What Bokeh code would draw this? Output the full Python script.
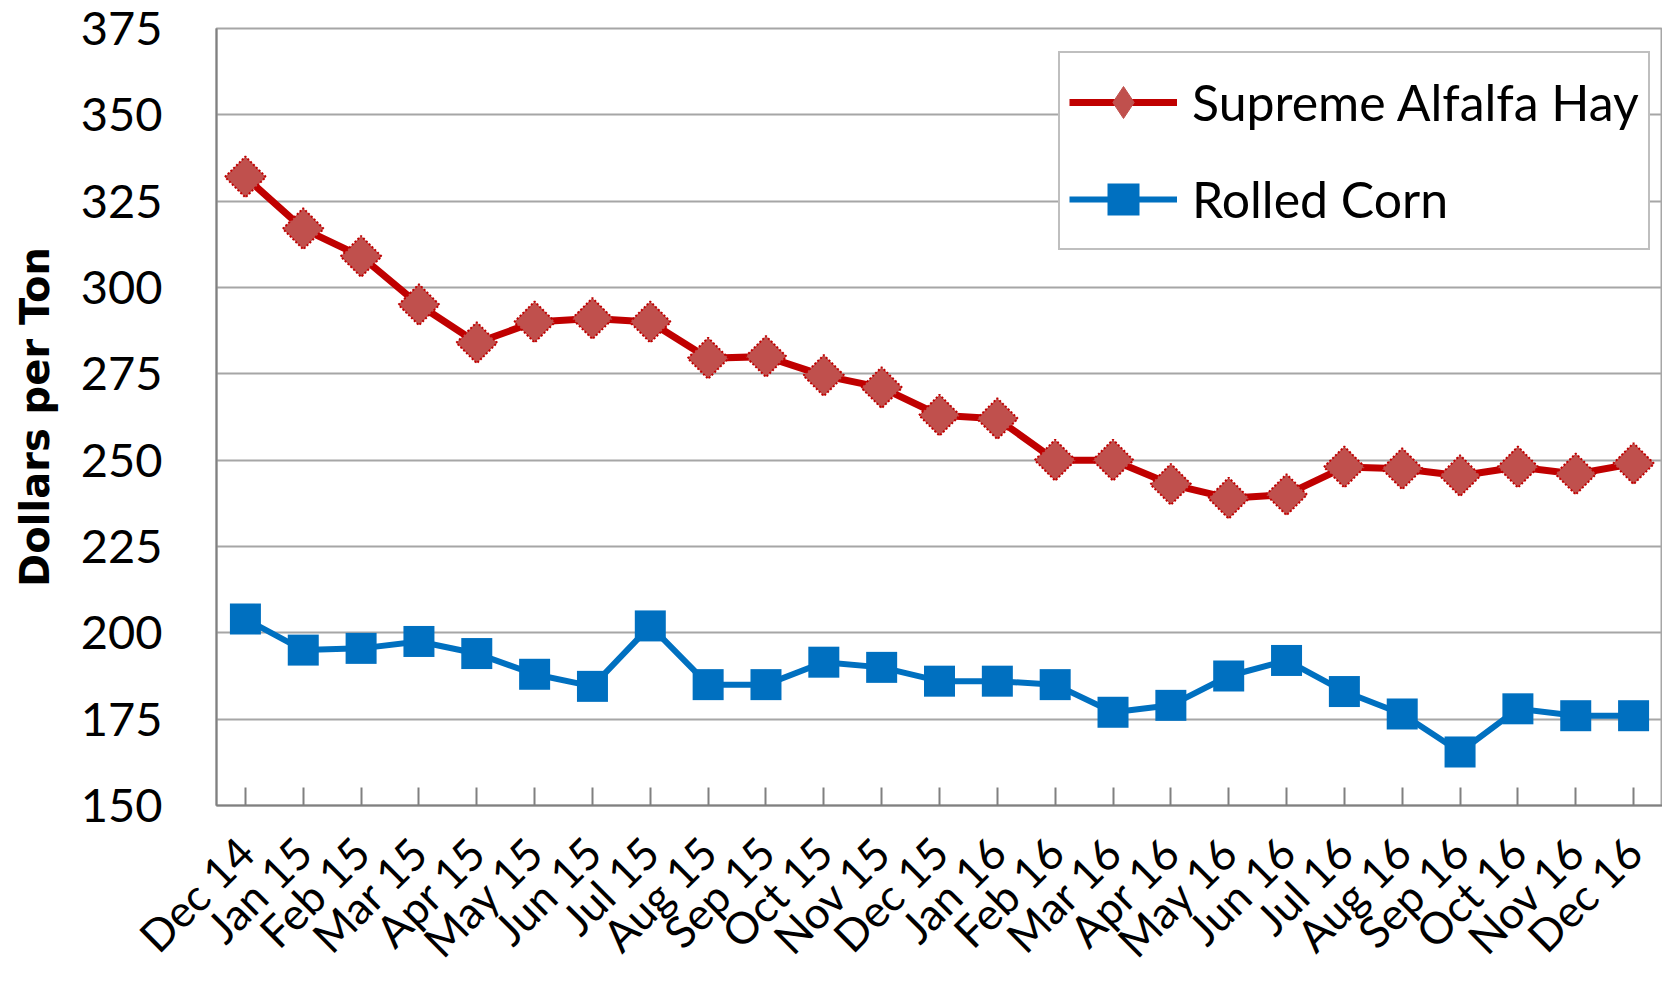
import math
from bokeh.plotting import figure
from bokeh.models import Range1d, FixedTicker, Legend, LegendItem
from bokeh.embed import file_html
from bokeh.resources import INLINE

months = ["Dec 14", "Jan 15", "Feb 15", "Mar 15", "Apr 15", "May 15", "Jun 15",
          "Jul 15", "Aug 15", "Sep 15", "Oct 15", "Nov 15", "Dec 15", "Jan 16",
          "Feb 16", "Mar 16", "Apr 16", "May 16", "Jun 16", "Jul 16", "Aug 16",
          "Sep 16", "Oct 16", "Nov 16", "Dec 16"]
alfalfa = [332, 317, 309, 295, 284, 290, 291, 290, 279.5, 280, 274.5, 271, 263,
           262, 250, 250, 243, 239, 240, 248, 247.5, 245.5, 248, 246, 249]
corn = [204, 195, 195.5, 197.5, 194, 188, 184.5, 202, 185, 185, 191.5, 190, 186,
        186, 185, 177, 179, 187.5, 192, 183, 176.5, 165.5, 178, 176, 176]
y_ticks = [150, 175, 200, 225, 250, 275, 300, 325, 350, 375]

p = figure(x_range=months, y_range=Range1d(150, 375), width=1662, height=987,
           output_backend="svg", toolbar_location=None, title=None,
           min_border_left=216, min_border_right=0, min_border_top=28,
           min_border_bottom=182)

# diamond marker used for the legend swatch (sits beneath the chart markers)
red_leg = p.scatter(months, alfalfa, marker="diamond", size=26,
                    fill_color="#C0504D", line_color="#C0504D")
red_line = p.line(months, alfalfa, line_color="#C00000", line_width=7)
p.scatter(months, alfalfa, marker="square", angle=math.pi / 4, size=29,
          fill_color="#C0504D", line_color="#C00000", line_width=2, line_dash="2 2")

blue_line = p.line(months, corn, line_color="#0070C0", line_width=6)
blue_sc = p.scatter(months, corn, marker="square", size=31,
                    fill_color="#0070C0", line_color=None)

legend = Legend(items=[LegendItem(label="Supreme Alfalfa Hay", renderers=[red_line, red_leg]),
                       LegendItem(label="Rolled Corn", renderers=[blue_line, blue_sc])],
                location=(842, 555))
legend.label_text_font = "Lato"
legend.label_text_font_size = "50px"
legend.label_text_color = "#000000"
legend.glyph_width = 108
legend.glyph_height = 80
legend.label_height = 80
legend.spacing = 17
legend.padding = 9
legend.margin = 0
legend.label_standoff = 15
legend.border_line_color = "#808080"
legend.border_line_width = 2
legend.background_fill_alpha = 1
p.add_layout(legend)

xa = p.xaxis[0]
xa.major_label_orientation = math.pi / 4
xa.major_label_text_font = "Lato"
xa.major_label_text_font_size = "44px"
xa.major_label_text_color = "#000000"
xa.axis_line_color = "#808080"
xa.axis_line_width = 2
xa.major_tick_in = 18
xa.major_tick_out = 0
xa.major_tick_line_color = "#808080"
xa.major_tick_line_width = 2
xa.major_label_standoff = 39

ya = p.yaxis[0]
ya.ticker = FixedTicker(ticks=y_ticks)
ya.major_tick_in = 0
ya.major_tick_out = 0
ya.minor_tick_line_color = None
ya.major_label_standoff = 54
ya.major_label_text_font = "Lato"
ya.major_label_text_font_size = "47px"
ya.major_label_text_color = "#000000"
ya.axis_line_color = "#808080"
ya.axis_line_width = 2
ya.axis_label = "Dollars per Ton"
ya.axis_label_text_font = "DejaVu Sans"
ya.axis_label_text_font_style = "bold"
ya.axis_label_text_font_size = "40px"
ya.axis_label_text_color = "#000000"
ya.axis_label_standoff = 20

p.xgrid.visible = False
p.ygrid.grid_line_color = "#A6A6A6"
p.ygrid.grid_line_width = 2
p.outline_line_color = "#A6A6A6"
p.outline_line_width = 2
p.outline_line_alpha = 1

open("out.html", "w").write(file_html(p, INLINE))
